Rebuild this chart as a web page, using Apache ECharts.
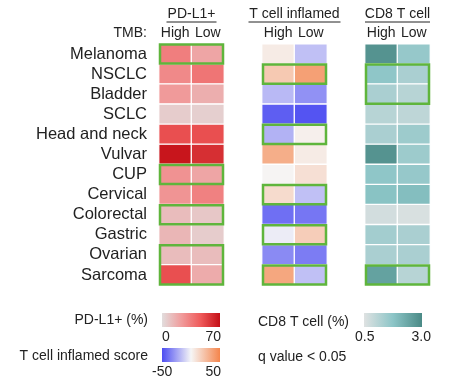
<!DOCTYPE html>
<html>
<head>
<meta charset="utf-8">
<script src="https://cdn.jsdelivr.net/npm/echarts@6/dist/echarts.min.js"></script>
<style>html,body{margin:0;padding:0;background:#fff}#c{width:458px;height:385px}</style>
</head>
<body>
<div id="c"></div>
<script>
const cancers = ['Melanoma','NSCLC','Bladder','SCLC','Head and neck','Vulvar','CUP','Cervical','Colorectal','Gastric','Ovarian','Sarcoma'];
const tmbGroups = ['High','Low'];
// [High, Low] per cancer
const pdl1High = [34, 30, 24, 6, 50, 68, 27, 26, 12, 14, 12, 50];
const pdl1Low  = [20, 37, 17, 5, 50, 60, 20, 33, 8, 6, 12, 18];
const tcellHigh = [5, 20, -18, -45, -20, 32, 1, 12, -40, -3, -32, 35];
const tcellLow  = [-16, 38, -30, -48, 3, 5, 10, -16, -38, 18, -36, -16];
const cd8High = [2.8, 1.7, 1.3, 1.1, 1.3, 2.8, 1.7, 1.8, 0.7, 1.4, 1.3, 2.5];
const cd8Low  = [1.6, 1.3, 1.1, 1.0, 1.5, 1.5, 1.6, 1.9, 0.6, 1.3, 1.3, 1.1];
// q < 0.05 boxes: [first row, last row]
const sigPdl1 = [['Melanoma','Melanoma'],['CUP','CUP'],['Colorectal','Colorectal'],['Ovarian','Sarcoma']];
const sigTcell = [['NSCLC','NSCLC'],['Head and neck','Head and neck'],['Cervical','Cervical'],['Gastric','Gastric'],['Sarcoma','Sarcoma']];
const sigCd8 = [['NSCLC','Bladder'],['Sarcoma','Sarcoma']];
const panelTitles = ['PD-L1+','T cell inflamed','CD8 T cell'];
const legendPdl1 = ['0','70'];
const legendTcell = ['-50','50'];
const legendCd8 = ['0.5','3.0'];

const pdl1Colors = ['#e2dddd','#f09c9c','#ef5a5a','#c40f16'];
const tcellColors = ['#4d4df2','#f6f6f6','#f5854c'];
const cd8Colors = ['#dfe2e2','#8cc5c7','#4a8a86'];
const green = '#5fb53c';
const font = 'Liberation Sans, Arial, sans-serif';

function cells(hi, lo){
  const out=[];
  cancers.forEach((c,i)=>{ out.push([0,i,hi[i]]); out.push([1,i,lo[i]]); });
  return out;
}
function boxes(sig){ return sig.map(s=>[cancers.indexOf(s[0]), cancers.indexOf(s[1])]); }

const gridLefts = [159, 262, 365];
const grids = gridLefts.map(l=>({left:l, top:44, width:65, height:241}));
const xAxes = gridLefts.map((l,i)=>({type:'category', gridIndex:i, data:tmbGroups, position:'top',
  axisLine:{show:false}, axisTick:{show:false}, splitLine:{show:false},
  axisLabel:{interval:0, fontSize:14, color:'#222', margin:4, fontFamily:font}}));
const yAxes = gridLefts.map((l,i)=>({type:'category', gridIndex:i, data:cancers, inverse:true,
  axisLine:{show:false}, axisTick:{show:false}, splitLine:{show:false},
  axisLabel:{show:i===0, interval:0, fontSize:16.5, color:'#222', margin:12, fontFamily:font}}));

function heat(i, data){
  return {type:'heatmap', xAxisIndex:i, yAxisIndex:i, data:data,
    itemStyle:{borderColor:'#fff', borderWidth:1.3}, emphasis:{disabled:true}};
}
function boxSeries(i, data){
  return {type:'custom', xAxisIndex:i, yAxisIndex:i, data:data, silent:true, z:10,
    encode:{y:[0,1]},
    renderItem:function(params, api){
      const a = api.coord([0, api.value(0)]);
      const b = api.coord([1, api.value(1)]);
      const sz = api.size([1,1]);
      const x0 = a[0]-sz[0]/2, x1 = b[0]+sz[0]/2;
      const y0 = a[1]-sz[1]/2, y1 = b[1]+sz[1]/2;
      return {type:'rect', shape:{x:x0+1, y:y0+0.5, width:x1-x0-2, height:y1-y0-1},
        style:{fill:null, stroke:green, lineWidth:2.5}};
    }};
}

const series = [
  heat(0, cells(pdl1High, pdl1Low)),
  heat(1, cells(tcellHigh, tcellLow)),
  heat(2, cells(cd8High, cd8Low)),
  boxSeries(0, boxes(sigPdl1)),
  boxSeries(1, boxes(sigTcell)),
  boxSeries(2, boxes(sigCd8))
];

const visualMap = [
  {show:false, seriesIndex:0, dimension:2, min:0, max:70, inRange:{color:pdl1Colors}},
  {show:false, seriesIndex:1, dimension:2, min:-50, max:50, inRange:{color:tcellColors}},
  {show:false, seriesIndex:2, dimension:2, min:0.5, max:3.0, inRange:{color:cd8Colors}}
];

function grad(colors){
  return new echarts.graphic.LinearGradient(0,0,1,0, colors.map((c,i)=>({offset:i/(colors.length-1), color:c})));
}
function txt(x,y,t,align,size){
  return {type:'text', x:x, y:y, style:{text:t, fill:'#222', font:(size||14)+'px '+font, textAlign:align||'left', textVerticalAlign:'middle'}};
}
const titleCenters = [191.5, 294.5, 397.5];
const titleWidths = [50, 92, 65];
const graphic = [];
panelTitles.forEach((t,i)=>{
  graphic.push(txt(titleCenters[i], 14, t, 'center', 14));
  graphic.push({type:'line', shape:{x1:titleCenters[i]-titleWidths[i]/2, y1:22, x2:titleCenters[i]+titleWidths[i]/2, y2:22}, style:{stroke:'#222', lineWidth:1}});
});
graphic.push(txt(147, 33, 'TMB:', 'right', 14));
// legends
graphic.push(txt(148, 320, 'PD-L1+ (%)', 'right', 14));
graphic.push({type:'rect', shape:{x:162, y:313, width:58, height:14}, style:{fill:grad(pdl1Colors)}});
graphic.push(txt(162, 337, legendPdl1[0], 'left', 14));
graphic.push(txt(221, 337, legendPdl1[1], 'right', 14));
graphic.push(txt(148, 356, 'T cell inflamed score', 'right', 14));
graphic.push({type:'rect', shape:{x:162, y:348, width:58, height:14}, style:{fill:grad(tcellColors)}});
graphic.push(txt(152, 372, legendTcell[0], 'left', 14));
graphic.push(txt(221, 372, legendTcell[1], 'right', 14));
graphic.push(txt(258, 322, 'CD8 T cell (%)', 'left', 14));
graphic.push({type:'rect', shape:{x:364, y:313, width:58, height:14}, style:{fill:grad(cd8Colors)}});
graphic.push(txt(355, 337, legendCd8[0], 'left', 14));
graphic.push(txt(431, 337, legendCd8[1], 'right', 14));
graphic.push(txt(258, 357, 'q value < 0.05', 'left', 14));

const chart = echarts.init(document.getElementById('c'), null, {renderer:'canvas'});
chart.setOption({animation:false, backgroundColor:'#fff', grid:grids, xAxis:xAxes, yAxis:yAxes, visualMap:visualMap, series:series, graphic:graphic});
</script>
</body>
</html>
